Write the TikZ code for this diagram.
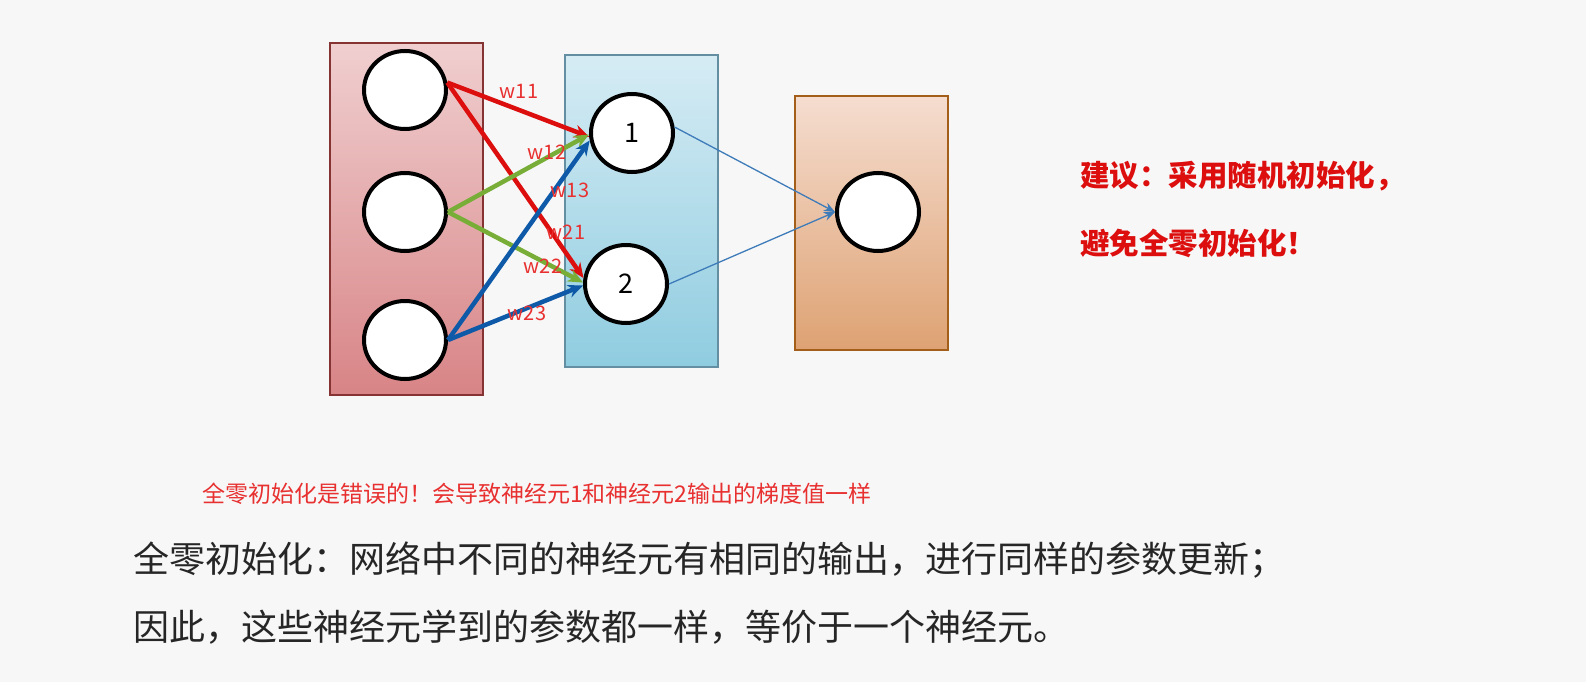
\documentclass[tikz,border=0pt]{standalone}
\usepackage{fontspec}
\newfontfamily\cjk{Noto Sans CJK SC}
\usetikzlibrary{shapes.geometric,arrows.meta}
\definecolor{wred}{HTML}{E83030}
\definecolor{lredT}{HTML}{F0CFD0}
\definecolor{lredB}{HTML}{D88486}
\definecolor{lbluT}{HTML}{D6ECF4}
\definecolor{lbluB}{HTML}{8FCCE0}
\definecolor{lorT}{HTML}{F5DDD0}
\definecolor{lorB}{HTML}{DEA273}
\definecolor{cgreen}{HTML}{78AE38}
\definecolor{cblue}{HTML}{0E5AA8}
\definecolor{cred}{HTML}{DC0E0E}
\begin{document}
\begin{tikzpicture}[x=1pt,y=-1pt,
  neuron/.style={ellipse,draw=black,line width=4pt,fill=white,minimum width=82pt,minimum height=78pt,font=\cjk\fontsize{27}{29}\selectfont},
  layer/.style={draw,line width=1.5pt},
  conn/.style={line width=4.5pt,-{Stealth[length=15pt,width=13pt]}},
  thin/.style={draw=cblue!80,line width=1.3pt,-{Stealth[length=11pt,width=9pt]}},
  wlab/.style={text=wred,font=\cjk\fontsize{20}{22}\selectfont,inner sep=0pt},
]
\useasboundingbox[fill=white!97!black] (0,0) rectangle (1586,682);
\shade[top color=lredT,bottom color=lredB] (330,43) rectangle (483,395);
\draw[layer,draw=red!40!black!80] (330,43) rectangle (483,395);
\shade[top color=lbluT,bottom color=lbluB] (565,55) rectangle (718,367);
\draw[layer,draw=cyan!50!black!80] (565,55) rectangle (718,367);
\shade[top color=lorT,bottom color=lorB] (795,96) rectangle (948,350);
\draw[layer,draw=orange!60!black!90] (795,96) rectangle (948,350);
\node[neuron] (i1) at (405,90) {};
\node[neuron] (i2) at (405,212) {};
\node[neuron] (i3) at (405,340) {};
\node[neuron] (h1) at (632,133) {1};
\node[neuron] (h2) at (626,284) {2};
\node[neuron] (o) at (878,212) {};
\draw[conn,draw=cred] (i1.10) -- (h1.185);
\draw[conn,draw=cred] (i1.10) -- (h2.172);
\draw[conn,draw=cgreen] (i2.east) -- (h1.182);
\draw[conn,draw=cgreen] (i2.east) -- (h2.178);
\draw[conn,draw=cblue] (i3.east) -- (h1.190);
\draw[conn,draw=cblue] (i3.east) -- (h2.182);
\draw[thin] (h1.8) -- (o.west);
\draw[thin] (h2.east) -- (o.west);
\node[wlab] (w11) at (519,91) {w11};
\node[wlab] (w12) at (547,152) {w12};
\node[wlab] (w13) at (570,190) {w13};
\node[wlab] (w21) at (566,232) {w21};
\node[wlab] (w22) at (543,266) {w22};
\node[wlab] (w23) at (527,313) {w23};
\node[anchor=west,text=cred,font=\cjk\bfseries\fontsize{29.5}{33}\selectfont,inner sep=0pt] (s1) at (1080,176) {建议：采用随机初始化，};
\node[anchor=west,text=cred,font=\cjk\bfseries\fontsize{29.5}{33}\selectfont,inner sep=0pt] (s2) at (1080,243) {避免全零初始化！};
\node[anchor=west,text=wred,font=\cjk\fontsize{23}{25}\selectfont,inner sep=0pt] (n) at (202,494) {全零初始化是错误的！会导致神经元1和神经元2输出的梯度值一样};
\node[anchor=west,text=black!85,font=\cjk\fontsize{36}{38}\selectfont,inner sep=0pt] (b1) at (133,560) {全零初始化：网络中不同的神经元有相同的输出，进行同样的参数更新；};
\node[anchor=west,text=black!85,font=\cjk\fontsize{36}{38}\selectfont,inner sep=0pt] (b2) at (133,627) {因此，这些神经元学到的参数都一样，等价于一个神经元。};
\end{tikzpicture}
\end{document}
